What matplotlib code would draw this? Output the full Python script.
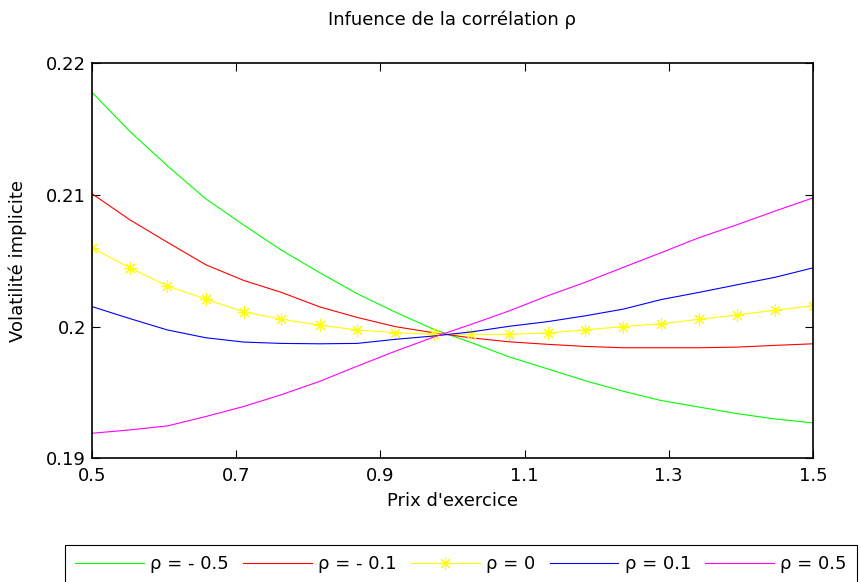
import matplotlib
matplotlib.use("Agg")
import matplotlib.pyplot as plt
from matplotlib.ticker import FixedLocator, FuncFormatter

# strike grid (20 points between 0.5 and 1.5)
strikes = [0.500, 0.553, 0.605, 0.658, 0.711, 0.763, 0.816, 0.868, 0.921, 0.974,
           1.026, 1.079, 1.132, 1.184, 1.237, 1.289, 1.342, 1.395, 1.447, 1.500]

vol_rho_m05 = [0.2178, 0.2148, 0.2122, 0.2097, 0.2077, 0.2058, 0.2041, 0.2025, 0.2011, 0.1998,
               0.1988, 0.1977, 0.1968, 0.1959, 0.1951, 0.1944, 0.1939, 0.1934, 0.1930, 0.1927]
vol_rho_m01 = [0.2101, 0.2081, 0.2064, 0.2047, 0.2035, 0.2026, 0.2015, 0.2007, 0.2000, 0.19954,
               0.19915, 0.19885, 0.19866, 0.1985, 0.1984, 0.1984, 0.1984, 0.19845, 0.19858, 0.1987]
vol_rho_0 = [0.2060, 0.20446, 0.20308, 0.20209, 0.20112, 0.20056, 0.20011, 0.19975, 0.19954, 0.19944,
             0.19941, 0.19942, 0.19952, 0.19976, 0.2000, 0.20022, 0.20056, 0.20089, 0.20125, 0.20158]
vol_rho_01 = [0.20153, 0.20061, 0.19975, 0.19916, 0.19883, 0.19873, 0.1987, 0.19873, 0.19904, 0.19929,
              0.1996, 0.20003, 0.20038, 0.20082, 0.20133, 0.20205, 0.2026, 0.20318, 0.20374, 0.20446]
vol_rho_05 = [0.19191, 0.19217, 0.19247, 0.19318, 0.19395, 0.19484, 0.19585, 0.1970, 0.19814, 0.19921,
              0.20017, 0.2012, 0.20234, 0.20336, 0.2045, 0.2056, 0.20675, 0.20774, 0.20876, 0.20977]

labels = ["\u03c1 = - 0.5", "\u03c1 = - 0.1", "\u03c1 = 0", "\u03c1 = 0.1", "\u03c1 = 0.5"]
x_ticks = [0.5, 0.7, 0.9, 1.1, 1.3, 1.5]
y_ticks = [0.19, 0.20, 0.21, 0.22]

FS = 13
plt.rcParams["font.family"] = ["DejaVu Sans"]

fig = plt.figure(figsize=(8.61, 5.82), dpi=100)
ax = fig.add_axes([0.1065, 0.2122, 0.8378, 0.6796])

ax.plot(strikes, vol_rho_m05, color="#00ff00", lw=0.8, label=labels[0])
ax.plot(strikes, vol_rho_m01, color="#ff0000", lw=0.8, label=labels[1])
ax.plot(strikes, vol_rho_0, color="#ffff00", lw=0.8, marker=(8, 2, 0),
        markersize=9, markeredgewidth=0.8, label=labels[2])
ax.plot(strikes, vol_rho_01, color="#0000ff", lw=0.8, label=labels[3])
ax.plot(strikes, vol_rho_05, color="#ff00ff", lw=0.8, label=labels[4])

ax.set_xlim(0.5, 1.5)
ax.set_ylim(0.19, 0.22)
ax.xaxis.set_major_locator(FixedLocator(x_ticks))
ax.yaxis.set_major_locator(FixedLocator(y_ticks))
ax.xaxis.set_major_formatter(FuncFormatter(lambda v, p: f"{v:g}"))
ax.yaxis.set_major_formatter(FuncFormatter(lambda v, p: f"{v:g}"))
ax.tick_params(direction="in", top=True, right=True, length=6, width=0.8,
               labelsize=FS, colors="black")
ax.tick_params(axis="x", pad=6)
ax.tick_params(axis="y", pad=4)
for sp in ax.spines.values():
    sp.set_linewidth(1.2)

ax.set_xlabel("Prix d'exercice", fontsize=FS, labelpad=5)
ax.set_ylabel("Volatilit\u00e9 implicite", fontsize=FS, labelpad=14)
ax.set_title("Infuence de la corr\u00e9lation \u03c1", fontsize=FS, pad=27)

# legend row runs past the right edge like the original export
leg = fig.legend(loc="upper left", bbox_to_anchor=(65 / 861, 1 - 545 / 582),
                 ncol=5, fontsize=FS, frameon=True, fancybox=False,
                 edgecolor="black", framealpha=1, borderaxespad=0,
                 handlelength=3.8, handletextpad=0.35, columnspacing=0.8,
                 borderpad=0.55)
leg.get_frame().set_linewidth(0.8)

fig.savefig("out.png", dpi=100)
